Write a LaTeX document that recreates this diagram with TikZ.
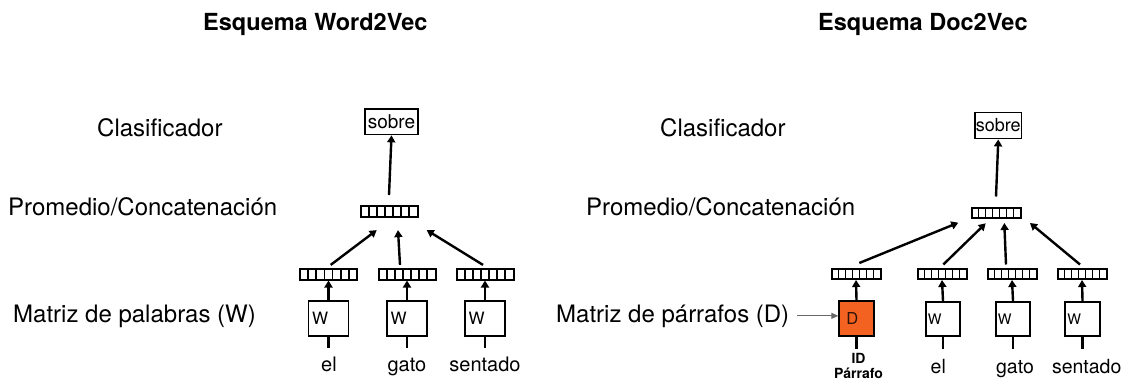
\documentclass[tikz,border=0pt]{standalone}
\usepackage{fontspec}
\setmainfont{TeX Gyre Heros}
\usetikzlibrary{arrows.meta,calc}
\definecolor{dorange}{RGB}{244,98,34}
\definecolor{dtext}{RGB}{45,20,8}
\definecolor{pointergray}{RGB}{105,105,105}
\newcommand\fsz[1]{\fontsize{#1}{#1}\selectfont}

\tikzset{
  heading/.style={font=\fsz{23.5}\bfseries, anchor=base west, inner sep=0},
  rowlabel/.style={font=\fsz{24}, anchor=base west, inner sep=0},
  wordlabel/.style={font=\fsz{#1}, anchor=base, inner sep=0},
  idlabel/.style={font=\fsz{14}\bfseries, anchor=base, inner sep=0},
  vecbase/.style={draw, line width=2pt, fill=white, inner sep=0,
    path picture={
      \foreach \k in {1,...,6}{
        \draw[line width=1.8pt]
          ($(path picture bounding box.south west)!\k/7!(path picture bounding box.south east)$) --
          ($(path picture bounding box.north west)!\k/7!(path picture bounding box.north east)$);
      }}},
  vecL/.style={vecbase, minimum width=57pt, minimum height=11pt},
  vecR/.style={vecbase, minimum width=49pt, minimum height=10pt},
  outbox/.style={draw, line width=1.8pt, inner sep=0},
  wboxL/.style={draw, line width=1.8pt, minimum height=35pt, inner xsep=3.5pt,
    text width=33pt, align=left, font=\fsz{17}},
  wboxR/.style={draw, line width=1.8pt, minimum height=34.5pt, inner xsep=2pt,
    text width=30.5pt, align=left, font=\fsz{14.5}},
  dbox/.style={draw, line width=1.8pt, fill=dorange, text=dtext, minimum height=34.5pt,
    inner xsep=7pt, text width=20.5pt, align=left, font=\fsz{16.5}},
  conn/.style={line width=2.4pt, -{Triangle[length=7pt,width=8pt]}},
  stem/.style={line width=2.4pt},
  pointer/.style={line width=1.2pt, draw=pointergray, -{Triangle[length=7pt,width=6pt]}},
}

\begin{document}
\begin{tikzpicture}[x=1pt,y=-1pt]
\useasboundingbox (0,0) rectangle (1123,383);

% ---------- titles ----------
\node[heading] (titleW) at (203,30) {Esquema Word2Vec};
\node[heading] (titleD) at (818,30) {Esquema Doc2Vec};

% ---------- row labels, Word2Vec ----------
\node[rowlabel] (clsL) at (97,136) {Clasificador};
\node[rowlabel] (avgtxtL) at (8,215) {Promedio/Concatenación};
\node[rowlabel] (matL) at (13,322) {Matriz de palabras (W)};

% ---------- row labels, Doc2Vec ----------
\node[rowlabel] (clsR) at (660,136) {Clasificador};
\node[rowlabel] (avgtxtR) at (586,215) {Promedio/Concatenación};
\node[rowlabel] (matR) at (556,322) {Matriz de párrafos (D)};

% ---------- Word2Vec network ----------
\node[outbox, minimum width=53.5pt, minimum height=25.5pt, font=\fsz{19}] (sobreL) at (391.5,121.7) {sobre};
\node[vecL] (avgL) at (389,211) {};
\node[vecL] (vL1) at (328.5,274) {};
\node[vecL] (vL2) at (407,274) {};
\node[vecL] (vL3) at (485,274) {};
\node[wboxL] (wL1) at (328.5,318.3) {W};
\node[wboxL] (wL2) at (407,318.3) {W};
\node[wboxL] (wL3) at (485,318.3) {W};
\node[wordlabel=20] (elL) at (329,371) {el};
\node[wordlabel=20] (gatoL) at (407,371) {gato};
\node[wordlabel=20] (sentL) at (485,371) {sentado};

\coordinate (sL1) at (328.5,348);
\coordinate (sL2) at (407,348);
\coordinate (sL3) at (485,348);
\foreach \i in {1,2,3}{
  \draw[stem] (wL\i.south) -- (sL\i);
  \draw[conn] (wL\i.north) -- (vL\i.south);
}
\draw[conn] ([xshift=2.2pt,yshift=2.6pt]vL1.north) -- ([xshift=-12.3pt,yshift=-12.6pt]avgL.south);
\draw[conn] ([xshift=-7pt,yshift=2.6pt]vL2.north) -- ([xshift=9pt,yshift=-12.6pt]avgL.south);
\draw[conn] ([xshift=-2pt,yshift=2.6pt]vL3.north) -- ([xshift=37.7pt,yshift=-12.6pt]avgL.south);
\draw[conn] ([yshift=9.5pt]avgL.north) -- (sobreL.south);

% ---------- Doc2Vec network ----------
\node[outbox, minimum width=46.5pt, minimum height=26pt, inner xsep=0.5pt, font=\fsz{18}] (sobreR) at (998.3,125.5) {sobre};
\node[vecR] (avgR) at (996,212.5) {};
\node[vecR] (vR1) at (856,274) {};
\node[vecR] (vR2) at (942,274) {};
\node[vecR] (vR3) at (1012,274) {};
\node[vecR] (vR4) at (1082,274) {};
\node[dbox] (dR) at (856.5,318.5) {D};
\node[wboxR] (wR2) at (943,319) {W};
\node[wboxR] (wR3) at (1013,319) {W};
\node[wboxR] (wR4) at (1082.5,319) {W};
\node[idlabel] (idR) at (858.5,363) {ID};
\node[idlabel] (parR) at (858.5,378.5) {Párrafo};
\node[wordlabel=19.5] (elR) at (938.3,373) {el};
\node[wordlabel=19.5] (gatoR) at (1015,373) {gato};
\node[wordlabel=19.5] (sentR) at (1086.7,373) {sentado};

\coordinate (sR1) at (856.5,349);
\coordinate (sR2) at (943,349);
\coordinate (sR3) at (1013,349);
\coordinate (sR4) at (1082.5,349);
\draw[stem] (dR.south) -- (sR1);
\draw[conn] (dR.north) -- (vR1.south);
\foreach \i in {2,3,4}{
  \draw[stem] (wR\i.south) -- (sR\i);
  \draw[conn] (wR\i.north) -- (vR\i.south);
}
\draw[conn] ([xshift=3.3pt,yshift=5pt]vR1.north) -- ([xshift=-37.7pt,yshift=-4.2pt]avgR.south);
\draw[conn] ([xshift=1.3pt,yshift=3.5pt]vR2.north) -- ([xshift=-10.3pt,yshift=-4.8pt]avgR.south);
\draw[conn] ([xshift=-6pt,yshift=3.5pt]vR3.north) -- ([xshift=8.3pt,yshift=-4.5pt]avgR.south);
\draw[conn] ([xshift=-2pt,yshift=3.5pt]vR4.north) -- ([xshift=34pt,yshift=-4.5pt]avgR.south);
\draw[conn] ([yshift=10pt]avgR.north) -- (sobreR.south);

% paragraph matrix pointer
\draw[pointer] ([xshift=8pt]matR.east) -- (matR.east -| dR.west);
\end{tikzpicture}
\end{document}
